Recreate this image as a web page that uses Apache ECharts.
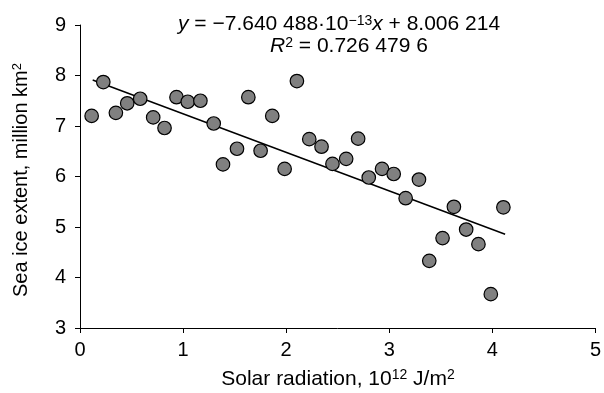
<!DOCTYPE html>
<html>
<head>
<meta charset="utf-8">
<script src="https://cdn.jsdelivr.net/npm/echarts@6/dist/echarts.min.js"></script>
<style>html,body{margin:0;padding:0;background:#fff}#c{width:604px;height:393px}</style>
</head>
<body>
<div id="c"></div>
<script>
// Solar radiation (10^12 J/m^2)
var radiation = [0.113,0.226,0.348,0.458,0.584,0.710,0.820,0.936,1.045,1.168,1.297,1.387,1.523,1.633,1.752,1.865,1.985,2.104,2.224,2.343,2.449,2.582,2.698,2.801,2.930,3.043,3.159,3.288,3.388,3.517,3.627,3.746,3.865,3.985,4.107];
// Sea ice extent (million km^2)
var seaIce = [7.20,7.87,7.26,7.45,7.54,7.17,6.96,7.57,7.48,7.50,7.05,6.24,6.55,7.57,6.51,7.20,6.15,7.89,6.74,6.59,6.25,6.35,6.75,5.98,6.15,6.05,5.57,5.94,4.33,4.78,5.40,4.95,4.66,3.67,5.39];
// Regression line endpoints
var trendX = [0.123, 4.124];
var trendY = [7.912, 4.855];
var xTicks = [0,1,2,3,4,5];
var yTicks = [3,4,5,6,7,8,9];

var font = 'Liberation Sans, Arial, sans-serif';
var pts = radiation.map(function(x,i){return [x, seaIce[i]];});
var trend = trendX.map(function(x,i){return [x, trendY[i]];});

var chart = echarts.init(document.getElementById('c'), null, {renderer:'canvas'});
chart.setOption({
  animation:false,
  backgroundColor:'#fff',
  grid:{left:80,right:7,top:25,bottom:65,containLabel:false},
  xAxis:{
    type:'value',min:xTicks[0],max:xTicks[xTicks.length-1],interval:1,
    axisLine:{show:true,lineStyle:{color:'#000',width:1}},
    axisTick:{show:true,inside:false,length:5,lineStyle:{color:'#000'}},
    axisLabel:{color:'#000',fontSize:20,fontFamily:font,margin:12},
    splitLine:{show:false}
  },
  yAxis:{
    type:'value',min:yTicks[0],max:yTicks[yTicks.length-1],interval:1,
    axisLine:{show:true,lineStyle:{color:'#000',width:1}},
    axisTick:{show:true,inside:false,length:5,lineStyle:{color:'#000'}},
    axisLabel:{color:'#000',fontSize:20,fontFamily:font,margin:14},
    splitLine:{show:false}
  },
  series:[
    {type:'line',data:trend,showSymbol:false,symbol:'none',lineStyle:{color:'#000',width:1.5},z:1},
    {type:'scatter',data:pts,symbol:'circle',symbolSize:13.5,
     itemStyle:{color:'#808080',borderColor:'#000',borderWidth:1.2,opacity:1},z:2}
  ],
  graphic:[
    {type:'text',x:178,y:14,style:{
      text:'{i|y}{t| = \u22127.640 488\u00b710}{s|\u221213}{i|x}{t| + 8.006 214}',
      rich:{
        t:{fontSize:21,fontFamily:font,fill:'#000'},
        i:{fontSize:21,fontFamily:font,fontStyle:'italic',fill:'#000'},
        s:{fontSize:14,fontFamily:font,fill:'#000',verticalAlign:'top'}
      }}},
    {type:'text',x:270,y:36,style:{
      text:'{i|R}{s|2}{t| = 0.726 479 6}',
      rich:{
        t:{fontSize:21,fontFamily:font,fill:'#000'},
        i:{fontSize:21,fontFamily:font,fontStyle:'italic',fill:'#000'},
        s:{fontSize:14,fontFamily:font,fill:'#000',verticalAlign:'top'}
      }}},
    {type:'text',x:338,y:379,style:{
      text:'{t|Solar radiation, 10}{s|12}{t| J/m}{s|2}',
      align:'center',verticalAlign:'middle',
      rich:{
        t:{fontSize:21,fontFamily:font,fill:'#000'},
        s:{fontSize:14,fontFamily:font,fill:'#000',verticalAlign:'top'}
      }}},
    {type:'text',x:21,y:180,rotation:Math.PI/2,style:{
      text:'{t|Sea ice extent, million km}{s|2}',
      align:'center',verticalAlign:'middle',
      rich:{
        t:{fontSize:20,fontFamily:font,fill:'#000'},
        s:{fontSize:13,fontFamily:font,fill:'#000',verticalAlign:'top'}
      }}}
  ]
});
</script>
</body>
</html>
